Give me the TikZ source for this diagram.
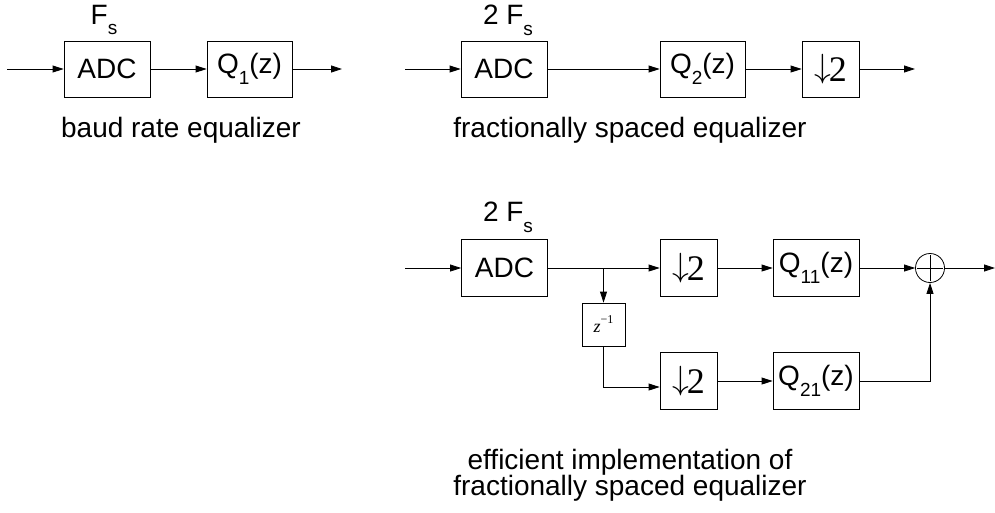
\documentclass[tikz,border=0pt]{standalone}
\usepackage{fontspec}
\usepackage{graphicx}
\setmainfont{Liberation Sans}
\newfontfamily\serifrm{Liberation Serif}
\usetikzlibrary{arrows.meta}
\newcommand{\sbs}[1]{\raisebox{-0.38em}{\fontsize{19}{19}\selectfont #1}}
\newcommand{\dnt}{{\fontsize{36}{36}\selectfont\raisebox{0.12em}{\scalebox{1.35}{$\downarrow$}}\kern-2pt\serifrm 2}}
\begin{document}
\begin{tikzpicture}[x=1pt,y=-1pt,
  font=\fontsize{28}{30}\selectfont,
  blk/.style={draw, line width=0.8pt, inner sep=0pt, minimum height=56pt},
  sig/.style={line width=0.8pt, -{Triangle[length=11pt,width=7pt]}},
  captxt/.style={font=\fontsize{28}{30}\selectfont, align=center}]
\useasboundingbox (0,0) rectangle (995,512);

% baud rate equalizer
\coordinate (in1) at (7,69);
\node[blk, minimum width=86pt] (adc1) at (107,69) {ADC};
\node[blk, minimum width=85pt] (q1) at (249.5,69) {Q\sbs{1}(z)};
\coordinate (out1) at (342,69);
\node (fs1) at (104,20) {F\sbs{s}};
\node[captxt] (t1) at (181,130) {baud rate equalizer};
\draw[sig] (in1) -- (adc1);
\draw[sig] (adc1) -- (q1);
\draw[sig] (q1) -- (out1);

% fractionally spaced equalizer
\coordinate (in2) at (405,69);
\node[blk, minimum width=86pt] (adc2) at (504,69) {ADC};
\node[blk, minimum width=85pt] (q2) at (702.5,69) {Q\sbs{2}(z)};
\node[blk, minimum width=57pt] (d2) at (830.5,69) {\dnt};
\coordinate (out2) at (915,69);
\node (fs2) at (508,20) {2 F\sbs{s}};
\node[captxt] (t2) at (630,130) {fractionally spaced equalizer};
\draw[sig] (in2) -- (adc2);
\draw[sig] (adc2) -- (q2);
\draw[sig] (q2) -- (d2);
\draw[sig] (d2) -- (out2);

% efficient implementation
\coordinate (in3) at (405,268);
\node[blk, minimum width=86pt, minimum height=57pt] (adc3) at (504.5,268) {ADC};
\node (fs3) at (508,217) {2 F\sbs{s}};
\coordinate (br) at (603.5,268);
\node[blk, minimum width=43pt, minimum height=43pt] (zd) at (603.5,324.5)
  {\serifrm\fontsize{18}{18}\selectfont\itshape z\raisebox{0.5em}{\upshape\fontsize{12}{12}\selectfont −1}};
\node[blk, minimum width=57pt, minimum height=57pt] (da) at (688.5,268) {\dnt};
\node[blk, minimum width=57pt, minimum height=57pt] (db) at (688.5,381) {\dnt};
\node[blk, minimum width=86pt, minimum height=57pt] (qa) at (816,268) {Q\sbs{11}(z)};
\node[blk, minimum width=86pt, minimum height=57pt] (qb) at (816,381) {Q\sbs{21}(z)};
\node[draw, circle, line width=0.8pt, minimum size=29pt, inner sep=0pt] (sum) at (930,268) {};
\draw[line width=0.8pt] ([yshift=-2pt]sum.north) -- ([yshift=2pt]sum.south)
  ([xshift=2pt]sum.west) -- ([xshift=-2pt]sum.east);
\coordinate (out3) at (995,268);
\coordinate (lo) at (603.5,387);
\node[captxt] (t3) at (630,475) {efficient implementation of\\[-4pt]fractionally spaced equalizer};

\draw[sig] (in3) -- (adc3);
\draw[sig] (adc3) -- (da);
\draw[sig] (br) -- (zd);
\draw[sig] (zd.south) -- (lo) -- (lo -| db.west);
\draw[sig] (da) -- (qa);
\draw[sig] (db) -- (qb);
\draw[sig] (qa) -- (sum);
\draw[sig] (qb) -| (sum);
\draw[sig] (sum) -- (out3);
\end{tikzpicture}
\end{document}
